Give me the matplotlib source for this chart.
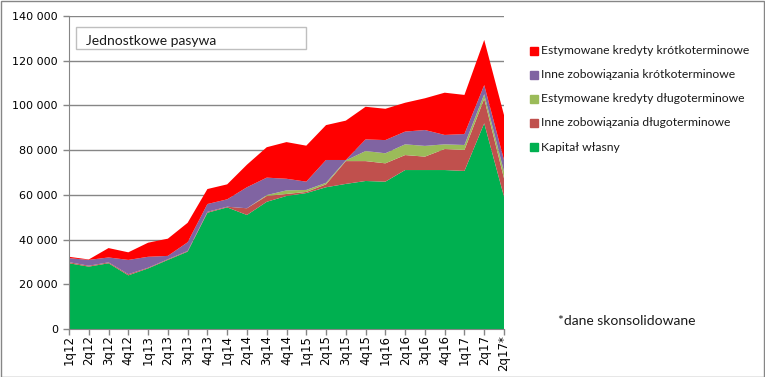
import matplotlib
matplotlib.use("Agg")
import matplotlib.pyplot as plt
from matplotlib.patches import Rectangle

quarters = ["1q12", "2q12", "3q12", "4q12", "1q13", "2q13", "3q13", "4q13",
            "1q14", "2q14", "3q14", "4q14", "1q15", "2q15", "3q15", "4q15",
            "1q16", "2q16", "3q16", "4q16", "1q17", "2q17", "2q17*"]

# layers from the bottom up
kapital_wlasny = [29400, 27900, 29400, 24000, 27100, 30900, 34600, 52000,
                  54400, 51000, 56900, 59500, 60800, 63400, 64900, 66200,
                  65900, 71100, 71100, 71100, 70700, 92000, 59200]
inne_dlugo = [500, 400, 400, 500, 300, 300, 300, 400,
              300, 3000, 2600, 900, 500, 1300, 10200, 8900,
              8200, 6700, 6000, 9400, 9400, 11000, 8200]
kredyty_dlugo = [0, 0, 0, 0, 0, 0, 0, 0,
                 0, 0, 400, 1600, 900, 700, 300, 4500,
                 4500, 4800, 4800, 2100, 2200, 2000, 3000]
inne_krotko = [1800, 2600, 2200, 6400, 4900, 1500, 3900, 3500,
               3300, 9400, 7800, 5200, 3700, 10200, 200, 5200,
               5900, 5700, 7100, 4200, 4900, 4100, 5200]
kredyty_krotko = [600, 200, 4200, 3400, 6300, 7700, 8700, 6700,
                  6700, 10100, 13600, 16400, 16100, 15600, 17600, 14600,
                  14000, 12900, 14200, 18900, 17500, 20200, 20100]

series_names = ["Kapitał własny",
                "Inne zobowiązania długoterminowe",
                "Estymowane kredyty długoterminowe",
                "Inne zobowiązania krótkoterminowe",
                "Estymowane kredyty krótkoterminowe"]
colors = ["#00B050", "#C0504D", "#9BBB59", "#8064A2", "#FF0000"]

yticks = [0, 20000, 40000, 60000, 80000, 100000, 120000, 140000]

W, H = 765, 377
fig = plt.figure(figsize=(W / 100, H / 100), dpi=100)
ax = fig.add_axes([69 / W, (H - 329) / H, (504 - 69) / W, (329 - 16) / H])

x = list(range(len(quarters)))
ax.stackplot(x, kapital_wlasny, inne_dlugo, kredyty_dlugo, inne_krotko,
             kredyty_krotko, colors=colors, linewidth=0, zorder=2)

ax.set_xlim(0, len(quarters) - 1)
ax.set_ylim(0, 140000)
ax.set_yticks(yticks)
ax.set_yticklabels([f"{v:,}".replace(",", " ") for v in yticks])
ax.set_xticks(x)
ax.set_xticklabels(quarters, rotation=90)
ax.grid(axis="y", color="#868686", linewidth=1, zorder=1)
ax.set_axisbelow(True)
for s in ["top", "right"]:
    ax.spines[s].set_visible(False)
ax.spines["left"].set_color("#868686")
ax.spines["bottom"].set_color("#868686")
ax.tick_params(axis="both", colors="#868686", labelcolor="black",
               labelsize=8, length=4, width=1)
ax.tick_params(axis="y", pad=4)
ax.tick_params(axis="x", pad=0.5, labelsize=8.5)

# title box
fig.patches.append(Rectangle((76 / W, 1 - 49 / H), (306 - 76) / W, 22 / H,
                             transform=fig.transFigure, fill=False,
                             edgecolor="#BFBFBF", linewidth=1))
fig.text(86 / W, 1 - 41 / H, "Jednostkowe pasywa", fontsize=10,
         family="Lato", va="center", ha="left", color="#1a1a1a")

# legend, drawn top to bottom
for i, (name, c) in enumerate(zip(series_names[::-1], colors[::-1])):
    yc = 51 + 24 * i
    fig.patches.append(Rectangle((530 / W, 1 - (yc + 4) / H), 8 / W, 8 / H,
                                 transform=fig.transFigure, color=c))
    fig.text(541 / W, 1 - yc / H, name, fontsize=8.7, family="Lato",
             va="center", ha="left", color="#1a1a1a")

fig.text(558 / W, 1 - 321 / H, "*dane skonsolidowane", fontsize=10,
         family="Lato", va="center", ha="left", color="#1a1a1a")

# outer frame
fig.patches.append(Rectangle((0.5 / W, 0.5 / H), (W - 1.5) / W, (H - 1.5) / H,
                             transform=fig.transFigure, fill=False,
                             edgecolor="#868686", linewidth=1))

fig.savefig("out.png", dpi=100)
